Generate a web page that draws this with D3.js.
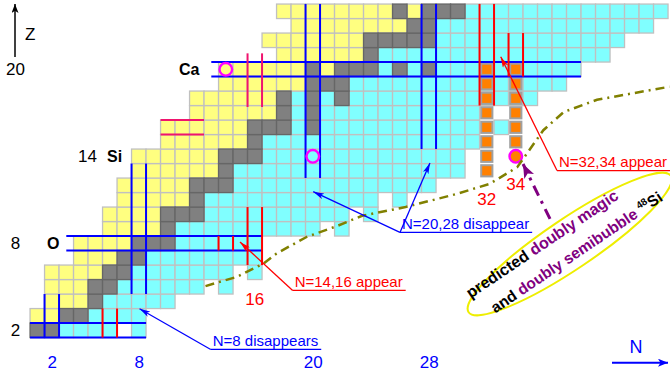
<!DOCTYPE html>
<html>
<head>
<meta charset="utf-8">
<script src="https://cdn.jsdelivr.net/npm/d3@7"></script>
<style>
  body { margin: 0; background: #fff; }
  svg { display: block; font-family: "Liberation Sans", Arial, Helvetica, sans-serif; }
</style>
</head>
<body>
<svg id="chart" width="670" height="379"></svg>
<script>
// one row per element: proton number, first neutron number, one code per neutron number
// Y = proton rich, G = stable, C = neutron rich, . = not observed
const rowZ     = [2, 3, 4, 5, 6, 7, 8, 9, 10, 11, 12, 13, 14, 15, 16, 17, 18, 19, 20, 21, 22, 23, 24];
const rowStart = [1, 1, 2, 2, 2, 4, 4, 6, 6, 7, 7, 8, 8, 10, 10, 12, 12, 14, 14, 18, 17, 19, 18];
const rowCodes = [
  "GGCCCC.C",
  "YYGGCCCC",
  "YYYGCCCCC",
  "YYYGGCCCCCC.C",
  "YYYYGGCCCCCCC.C",
  "YYYGGCCCCCCCC",
  "YYYYGGGCCCCCC",
  "YYYYGCCCCCCCCCC.C",
  "YYYYGGGCCCCCCCCCC.C",
  "YYYYYGCCCCCCCCCCCC.C",
  "YYYYYGGGCCCCCCCCCCCCCC",
  "YYYYYYGCCCCCCCCCCCCCCCC",
  "YYYYYYGGGCCCCCCCCCCCCCC",
  "YYYYYYGCCCCCCCCCCCCCCC",
  "YYYYYYGGGCGCCCCCCCCCCC.C",
  "YYYYYYGCGCCCCCCCCCCC",
  "YYYYYYGCGCGCCCCCCCCCCCCC",
  "YYYYYYGGGCCCCCCCCCCCCCCC",
  "YYYYYYGYGGGCGCGCCCCCCCCCC",
  "YYYYYYGCCCCCCCCCCCCCCCC",
  "YYYYYYYGGGGGCCCCCCCCCCCCC",
  "YYYYYYYYGGCCCCCCCCCCCCCCC",
  "YYYYYYYYGYGGGCCCCCCCCCCCCCC"
];

// predicted N=32 / N=34 nuclei [N, Z]
const predictedCells = [
  [32, 13], [32, 14], [32, 15], [32, 16], [32, 17], [32, 18], [32, 19], [32, 20],
  [34, 15], [34, 16], [34, 17], [34, 18], [34, 19], [34, 20]
];

// circled nuclei
const circleN = [14, 20, 34];
const circleZ = [20, 14, 14];
const circleFill = ["none", "none", "#ff8000"];

// magic number lines (pairs bounding the row / column)
const blueRowZ = [2, 8, 20];
const blueRowFrom = [0.5, 3.0, 13.0];
const blueRowTo = [8.5, 16.5, 38.5];
const blueColN = [2, 8, 20, 28];
const blueColFrom = [1.5, 4.5, 12.5, 14.5];
const blueColTo = [4.5, 13.5, 24.5, 24.5];
const redColN = [6, 14, 16, 32, 34];
const redColFrom = [1.5, 7.5, 6.5, 17.5, 19.5];
const redColTo = [3.5, 8.5, 10.5, 24.5, 22.5];
const pinkRowZ = [16];
const pinkRowFrom = [9.5];
const pinkRowTo = [12.5];
const pinkColN = [16];
const pinkColFrom = [17.4];
const pinkColTo = [21.1];

// predicted drip line
const dripN = [12.6, 14.8, 16.6, 17.5, 19.6, 21.7, 23.4, 26.4, 29.9, 32.2, 34.1, 35.9, 37.3, 39.6, 44.6];
const dripZ = [5.05, 5.7, 6.6, 7.3, 8.45, 9.2, 9.9, 10.5, 11.4, 12.1, 13.25, 15.8, 17.05, 17.9, 18.8];

// tick labels
const nTicks = [2, 8, 20, 28];
const zLabels = ["2", "8", "14", "20"];
const zLabelZ = [2, 8, 14, 20];
const zLabelN = [-0.5, -0.5, 4.46, -0.5];
const elemLabels = ["O", "Si", "Ca"];
const elemZ = [8, 14, 20];
const elemN = [1.67, 5.81, 10.77];

// red magic labels
const magicLabels = ["16", "32", "34"];
const magicLabelN = [16, 32, 34];
const magicLabelZ = [3.74, 10.64, 11.68];

// annotations: text start (baseline) and arrow tips
const noteText = ["N=8 disappears", "N=14,16 appear", "N=20,28 disappear", "N=32,34 appear"];
const noteColor = ["#0000ff", "#ff0000", "#0000ff", "#ff0000"];
const noteN = [13.1, 18.75, 26.15, 36.98];
const noteZ = [0.92, 4.99, 8.99, 13.26];
const noteTipN = [[8.05], [14.98], [20.03, 28.08], [32.96]];
const noteTipZ = [[3.49], [8.09], [11.56, 13.54], [20.87]];

const cellFill = { Y: "#ffff80", G: "#808080", C: "#80ffff" };

const svg = d3.select("#chart");
const x = d3.scaleLinear().domain([0, 44]).range([22.8, 660.8]);
const y = d3.scaleLinear().domain([2, 24]).range([330.3, 11.3]);
const cw = x(1) - x(0);

// arrow markers
const defs = svg.append("defs");
[["blue", "#0000ff", 11, 6], ["red", "#ff0000", 11, 6], ["black", "#000", 9, 7], ["purple", "#800080", 14, 11], ["nblue", "#0000ff", 10, 8]]
  .forEach(([id, col, w, h]) => {
    defs.append("marker")
      .attr("id", "arr-" + id)
      .attr("markerUnits", "userSpaceOnUse")
      .attr("markerWidth", w).attr("markerHeight", h)
      .attr("refX", w).attr("refY", h / 2)
      .attr("orient", "auto")
      .append("path")
      .attr("d", `M0,0L${w},${h / 2}L0,${h}L${w * 0.25},${h / 2}Z`)
      .attr("fill", col);
  });

// cells
let cells = [];
rowZ.forEach((z, i) => {
  rowCodes[i].split("").forEach((c, j) => {
    if (c !== ".") cells.push({ n: rowStart[i] + j, z: z, c: c });
  });
});
cells.sort((a, b) => (a.c === "G") - (b.c === "G"));

svg.append("g").selectAll("rect").data(cells).join("rect")
  .attr("x", d => x(d.n) - cw / 2)
  .attr("y", d => y(d.z) - cw / 2)
  .attr("width", cw).attr("height", cw)
  .attr("fill", d => cellFill[d.c])
  .attr("stroke", d => d.c === "G" ? "#666" : "#c0c0c0")
  .attr("stroke-width", 1.3);

svg.append("g").selectAll("rect").data(predictedCells).join("rect")
  .attr("x", d => x(d[0]) - 5.6)
  .attr("y", d => y(d[1]) - 5.6)
  .attr("width", 11.2).attr("height", 11.2)
  .attr("fill", "#ff8000")
  .attr("stroke", "#a0a0a0")
  .attr("stroke-width", 2);

// magic lines
function rowLines(zs, from, to, col) {
  const g = svg.append("g").attr("stroke", col).attr("stroke-width", 2);
  zs.forEach((z, i) => {
    [-0.5, 0.5].forEach(o => {
      g.append("line")
        .attr("x1", x(from[i])).attr("x2", x(to[i]))
        .attr("y1", y(z + o)).attr("y2", y(z + o));
    });
  });
}
function colLines(ns, from, to, col) {
  const g = svg.append("g").attr("stroke", col).attr("stroke-width", 2);
  ns.forEach((n, i) => {
    [-0.5, 0.5].forEach(o => {
      g.append("line")
        .attr("x1", x(n + o)).attr("x2", x(n + o))
        .attr("y1", y(from[i])).attr("y2", y(to[i]));
    });
  });
}
rowLines(blueRowZ, blueRowFrom, blueRowTo, "#0000ff");
colLines(blueColN, blueColFrom, blueColTo, "#0000ff");
colLines(redColN, redColFrom, redColTo, "#ff0000");
rowLines(pinkRowZ, pinkRowFrom, pinkRowTo, "#f0146e");
colLines(pinkColN, pinkColFrom, pinkColTo, "#f0146e");

// circles
svg.append("g").selectAll("circle").data(circleN).join("circle")
  .attr("cx", d => x(d))
  .attr("cy", (d, i) => y(circleZ[i]))
  .attr("r", 6.3)
  .attr("fill", (d, i) => circleFill[i])
  .attr("stroke", "#ff00ff")
  .attr("stroke-width", 2.4);

// drip line
svg.append("path")
  .datum(dripN.map((n, i) => [n, dripZ[i]]))
  .attr("d", d3.line().x(d => x(d[0])).y(d => y(d[1])))
  .attr("fill", "none")
  .attr("stroke", "#808000")
  .attr("stroke-width", 2.5)
  .attr("stroke-dasharray", "9,5,2,5");

// N axis labels
const xAxis = svg.append("g")
  .attr("transform", "translate(0,356)")
  .call(d3.axisBottom(x).tickValues(nTicks).tickSize(0).tickPadding(0));
xAxis.select(".domain").remove();
xAxis.selectAll("text")
  .attr("fill", "#0000ff")
  .style("font-size", "17px")
  .style("font-family", "Liberation Sans, Arial, sans-serif");

// Z labels
svg.append("g").selectAll("text").data(zLabels).join("text")
  .attr("x", (d, i) => x(zLabelN[i]))
  .attr("y", (d, i) => y(zLabelZ[i]))
  .attr("dy", "0.36em")
  .attr("text-anchor", "middle")
  .style("font-size", "17px")
  .text(d => d);

svg.append("g").selectAll("text").data(elemLabels).join("text")
  .attr("x", (d, i) => x(elemN[i]))
  .attr("y", (d, i) => y(elemZ[i]))
  .attr("dy", "0.36em")
  .style("font-size", "16px")
  .style("font-weight", "bold")
  .text(d => d);

// Z arrow and N arrow
svg.append("line")
  .attr("x1", 15).attr("x2", 15).attr("y1", 57).attr("y2", 4)
  .attr("stroke", "#000").attr("stroke-width", 1.5)
  .attr("marker-end", "url(#arr-black)");
svg.append("text").attr("x", 25).attr("y", 40).style("font-size", "17px").text("Z");

svg.append("line")
  .attr("x1", 612).attr("x2", 668).attr("y1", 362.7).attr("y2", 362.7)
  .attr("stroke", "#0000ff").attr("stroke-width", 2)
  .attr("marker-end", "url(#arr-nblue)");
svg.append("text").attr("x", 636).attr("y", 353)
  .attr("text-anchor", "middle")
  .attr("fill", "#0000ff").style("font-size", "18px").text("N");

// red magic labels
svg.append("g").selectAll("text").data(magicLabels).join("text")
  .attr("x", (d, i) => x(magicLabelN[i]))
  .attr("y", (d, i) => y(magicLabelZ[i]))
  .attr("text-anchor", "middle")
  .attr("fill", "#ff0000")
  .style("font-size", "17px")
  .text(d => d);

// annotations
noteText.forEach((t, i) => {
  const col = noteColor[i];
  const tx = x(noteN[i]), ty = y(noteZ[i]);
  const txt = svg.append("text")
    .attr("x", tx).attr("y", ty)
    .attr("fill", col)
    .style("font-size", "15px")
    .text(t);
  const len = txt.node().getComputedTextLength();
  const ux = tx - 2, uy = ty + 3.5;
  svg.append("line")
    .attr("x1", ux).attr("x2", tx + len + 3)
    .attr("y1", uy).attr("y2", uy)
    .attr("stroke", col).attr("stroke-width", 1.3);
  noteTipN[i].forEach((n, k) => {
    svg.append("line")
      .attr("x1", ux).attr("y1", uy)
      .attr("x2", x(n)).attr("y2", y(noteTipZ[i][k]))
      .attr("stroke", col).attr("stroke-width", 1.3)
      .attr("marker-end", col === "#ff0000" ? "url(#arr-red)" : "url(#arr-blue)");
  });
});

// purple pointer from the ellipse to 48Si
svg.append("line")
  .attr("x1", x(36.36)).attr("y1", y(9.68))
  .attr("x2", x(34.5)).attr("y2", y(13.47))
  .attr("stroke", "#800080").attr("stroke-width", 3)
  .attr("stroke-dasharray", "11,6,3,6")
  .attr("marker-end", "url(#arr-purple)");

// ellipse with text
const eg = svg.append("g")
  .attr("transform", `translate(${x(37.72)},${y(7.95)}) rotate(-34)`);
eg.append("ellipse")
  .attr("rx", 122).attr("ry", 25)
  .attr("fill", "none")
  .attr("stroke", "#eeee00")
  .attr("stroke-width", 2);
const l1 = eg.append("text")
  .attr("x", -23).attr("y", -10)
  .attr("text-anchor", "middle")
  .style("font-size", "16px").style("font-weight", "bold");
l1.append("tspan").attr("fill", "#000").text("predicted ");
l1.append("tspan").attr("fill", "#800080").text("doubly magic");
const l2 = eg.append("text")
  .attr("x", 1).attr("y", 16)
  .attr("text-anchor", "middle")
  .style("font-size", "15.5px").style("font-weight", "bold");
l2.append("tspan").attr("fill", "#000").text("and ");
l2.append("tspan").attr("fill", "#800080").text("doubly semibubble ");
l2.append("tspan").attr("fill", "#000").attr("dy", -6).style("font-size", "10px").text("48");
l2.append("tspan").attr("fill", "#000").attr("dy", 6).text("Si");
</script>
</body>
</html>
